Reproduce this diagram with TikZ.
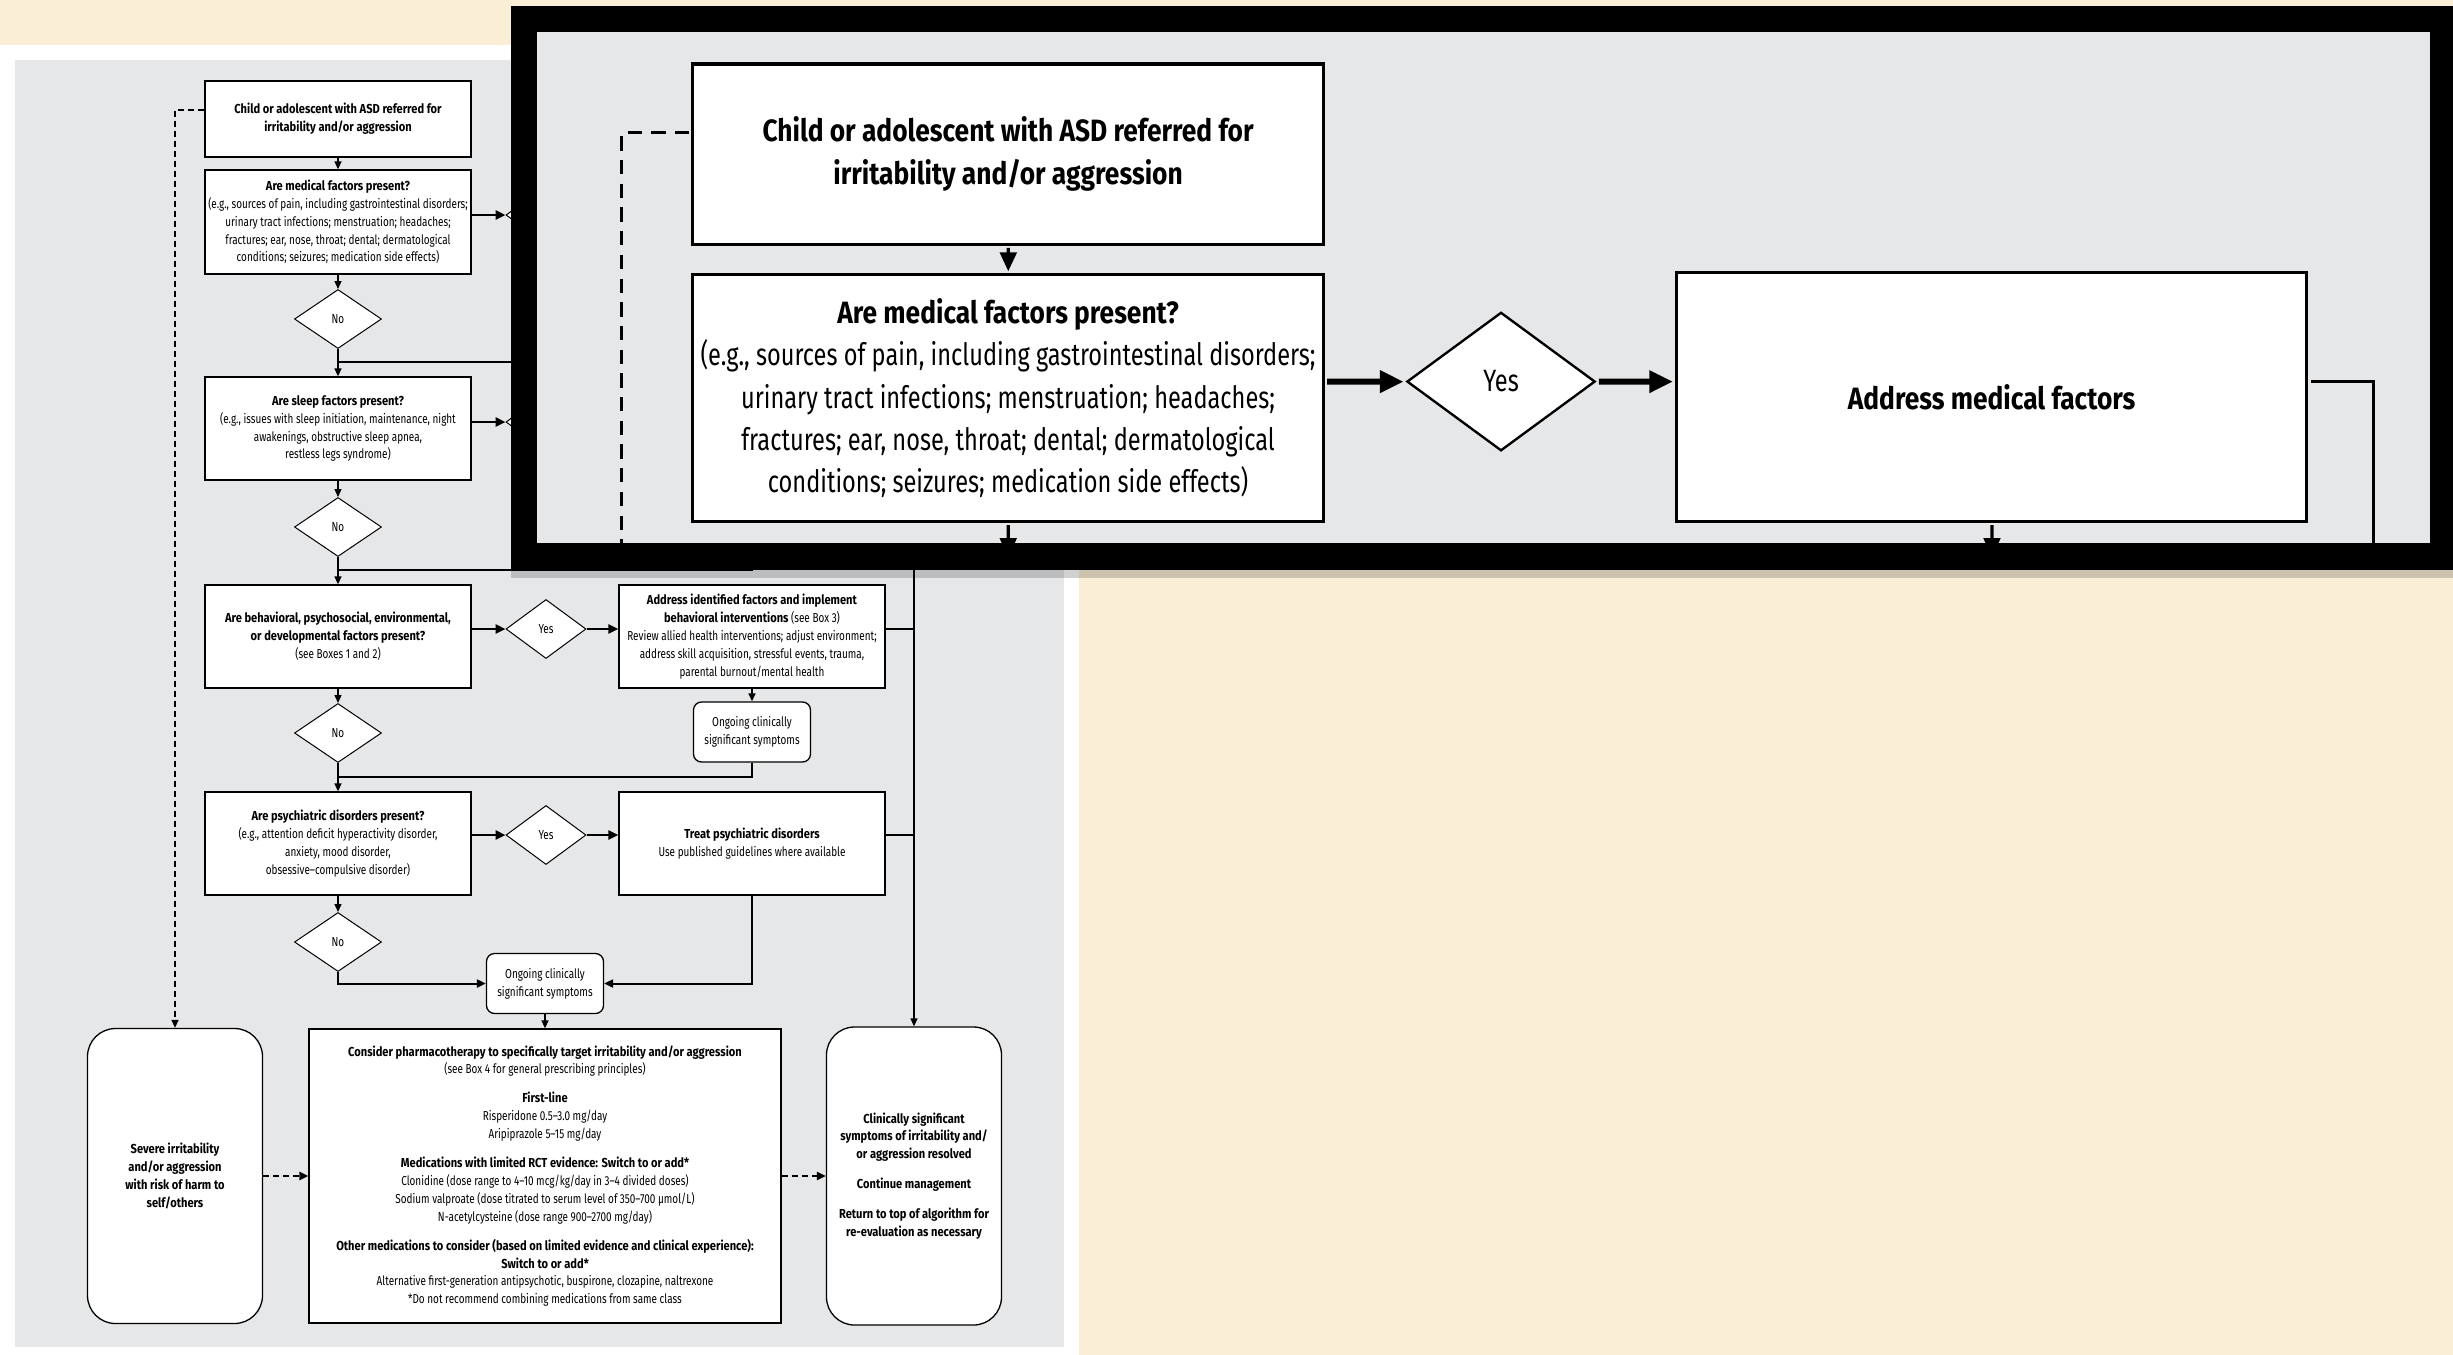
\documentclass[tikz,border=0pt]{standalone}
\usepackage{fontspec}
\setmainfont{Fira Sans}[FakeStretch=0.765, BoldFeatures={FakeStretch=0.855}]
\usetikzlibrary{arrows.meta,shapes.geometric}

\definecolor{cream}{RGB}{250,238,214}
\definecolor{panelgray}{RGB}{230,231,233}

\newcommand\setzoom[1]{%
  \def\zoomf{#1}%
  \pgfmathsetlengthmacro\lwthin{1.4pt*#1}%
  \pgfmathsetlengthmacro\lwbox{1.3pt*#1}%
  \pgfmathsetlengthmacro\lwdia{1pt*#1}%
  \pgfmathsetlengthmacro\lwthick{2.5pt*#1}%
  \pgfmathsetlengthmacro\dashon{6pt*#1}%
  \pgfmathsetlengthmacro\dashoff{4pt*#1}}
\setzoom{1}

\tikzset{
  boldtext/.style={font=\fontsize{13}{17.9}\selectfont\bfseries},
  box/.style={draw, fill=white, line width=\lwbox, align=center, inner sep=0pt},
  roundbox/.style={box, rounded corners=28pt},
  smallbox/.style={box, rounded corners=8pt, minimum width=117pt, minimum height=60pt},
  decision/.style={diamond, draw, fill=white, line width=\lwdia, inner sep=0pt, minimum height=59pt},
  arr/.style={line width=\lwthin, -{Triangle[length=8pt,width=7pt,scale=\zoomf]}},
  midarr/.style={line width=2pt, -{Triangle[length=9pt,width=8pt]}},
  yesarr/.style={line width=\lwthick, -{Triangle[length=10pt,width=9pt,scale=\zoomf]}},
  link/.style={line width=\lwthin},
  dashlink/.style={line width=\lwthin, dash pattern=on \dashon off \dashoff},
  dasharr/.style={line width=2.2pt, dash pattern=on 6pt off 4pt, -{Triangle[length=9pt,width=8pt]}},
}

\begin{document}
\begin{tikzpicture}[x=1pt, y=-1pt, font=\fontsize{13}{17.9}\selectfont]
  \useasboundingbox (0,0) rectangle (2453,1355);
  \fill[cream] (0,0) rectangle (2453,1355);
  \fill[white] (0,45) rectangle (1079,1355);
  \fill[panelgray] (15,60) rectangle (1064,1347);

  \node[box, boldtext, minimum width=266pt, minimum height=76pt] (child) at (338,119)
    {Child or adolescent with ASD referred for\\irritability and/or aggression};
  \node[box, minimum width=266pt, minimum height=104pt] (medical) at (338,222)
    {\textbf{Are medical factors present?}\\(e.g., sources of pain, including gastrointestinal disorders;\\urinary tract infections; menstruation; headaches;\\fractures; ear, nose, throat; dental; dermatological\\conditions; seizures; medication side effects)};
  \node[decision, minimum width=87pt] (nomed) at (338,319) {No};
  \node[decision, minimum width=80pt] (medyes) at (546,215) {};
  \node[box, minimum width=266pt, minimum height=103pt] (sleep) at (338,428.5)
    {\textbf{Are sleep factors present?}\\(e.g., issues with sleep initiation, maintenance, night\\awakenings, obstructive sleep apnea,\\restless legs syndrome)};
  \node[decision, minimum width=87pt] (nosleep) at (338,527) {No};
  \node[decision, minimum width=80pt] (sleepyes) at (546,422) {};
  \node[box, minimum width=266pt, minimum height=103pt] (behav) at (338,636.5)
    {\textbf{Are behavioral, psychosocial, environmental,}\\\textbf{or developmental factors present?}\\(see Boxes 1 and 2)};
  \node[decision, minimum width=80pt] (behavyes) at (546,629) {Yes};
  \node[box, minimum width=266pt, minimum height=103pt] (behavdo) at (752,636.5)
    {\textbf{Address identified factors and implement}\\\textbf{behavioral interventions} (see Box 3)\\Review allied health interventions; adjust environment;\\address skill acquisition, stressful events, trauma,\\parental burnout/mental health};
  \node[smallbox] (ongoing1) at (752,732) {Ongoing clinically\\significant symptoms};
  \node[decision, minimum width=87pt] (nobehav) at (338,733) {No};
  \node[box, minimum width=266pt, minimum height=103pt] (psych) at (338,843.5)
    {\textbf{Are psychiatric disorders present?}\\(e.g., attention deficit hyperactivity disorder,\\anxiety, mood disorder,\\obsessive--compulsive disorder)};
  \node[decision, minimum width=80pt] (psychyes) at (546,835) {Yes};
  \node[box, minimum width=266pt, minimum height=103pt] (psychdo) at (752,843.5)
    {\textbf{Treat psychiatric disorders}\\Use published guidelines where available};
  \node[decision, minimum width=87pt] (nopsych) at (338,942) {No};
  \node[smallbox] (ongoing2) at (545,983.5) {Ongoing clinically\\significant symptoms};
  \node[roundbox, boldtext, minimum width=175pt, minimum height=295pt] (severe) at (175,1176)
    {Severe irritability\\and/or aggression\\with risk of harm to\\self/others};
  \node[box, minimum width=472pt, minimum height=294pt] (pharma) at (545,1176)
    {\textbf{Consider pharmacotherapy to specifically target irritability and/or aggression}\\(see Box 4 for general prescribing principles)\\[11pt]
     \textbf{First-line}\\Risperidone 0.5--3.0 mg/day\\Aripiprazole 5--15 mg/day\\[11pt]
     \textbf{Medications with limited RCT evidence: Switch to or add*}\\Clonidine (dose range to 4--10 mcg/kg/day in 3--4 divided doses)\\Sodium valproate (dose titrated to serum level of 350--700 μmol/L)\\N-acetylcysteine (dose range 900--2700 mg/day)\\[11pt]
     \textbf{Other medications to consider (based on limited evidence and clinical experience):}\\\textbf{Switch to or add*}\\Alternative first-generation antipsychotic, buspirone, clozapine, naltrexone\\*Do not recommend combining medications from same class};
  \node[roundbox, boldtext, minimum width=175pt, minimum height=298pt] (resolved) at (914,1176)
    {Clinically significant\\symptoms of irritability and/\\or aggression resolved\\[12pt]Continue management\\[12pt]Return to top of algorithm for\\re-evaluation as necessary};

  \coordinate (medback) at (752,349);
  \coordinate (medjoin) at (338,362);
  \coordinate (sleepback) at (752,556);
  \coordinate (sleepjoin) at (338,570);
  \coordinate (behavjoin) at (338,777);
  \coordinate (rightline) at (914,215);
  \coordinate (dashcorner) at (175,110);
  \begin{scope}
    \draw[arr] (child) -- (medical);
    \draw[arr] (medical) -- (nomed);
    \draw[yesarr] (medical.east |- medyes) -- (medyes);
    \draw[arr] (nomed) -- (sleep);
    \draw[link] (medback) |- (medjoin);
    \draw[yesarr] (sleep.east |- sleepyes) -- (sleepyes);
    \draw[arr] (sleep) -- (nosleep);
    \draw[arr] (nosleep) -- (behav);
    \draw[link] (sleepback) |- (sleepjoin);
    \draw[yesarr] (behav.east |- behavyes) -- (behavyes);
    \draw[yesarr] (behavyes) -- (behavdo.west |- behavyes);
    \draw[arr] (behavdo) -- (ongoing1);
    \draw[link] (ongoing1) |- (behavjoin);
    \draw[arr] (behav) -- (nobehav);
    \draw[arr] (nobehav) -- (psych);
    \draw[yesarr] (psych.east |- psychyes) -- (psychyes);
    \draw[yesarr] (psychyes) -- (psychdo.west |- psychyes);
    \draw[arr] (psych) -- (nopsych);
    \draw[midarr] (psychdo) |- (ongoing2);
    \draw[midarr] (nopsych) |- (ongoing2);
    \draw[arr] (ongoing2) -- (pharma);
    \draw[arr] (rightline) -- (resolved);
    \draw[link] (behavdo.east |- behavyes) -- (behavyes -| resolved);
    \draw[link] (psychdo.east |- psychyes) -- (psychyes -| resolved);
    \draw[dashlink, -{Triangle[length=8pt,width=7pt]}] (child.west |- dashcorner) -- (dashcorner) -- (severe);
    \draw[dasharr] (severe) -- (pharma);
    \draw[dasharr] (pharma) -- (resolved);
  \end{scope}

  % zoomed inset
  \fill[black, opacity=.18] (511,570) rectangle (2453,578);
  \fill[black] (511,6) rectangle (2460,570);
  \fill[panelgray] (537,32) rectangle (2430,543);
  \begin{scope}
    \clip (537,32) rectangle (2430,543);
    \begin{scope}[shift={(207,-128)}, scale=2.37, transform shape]
      \setzoom{2.37}
      \node[box, boldtext, minimum width=266pt, minimum height=76pt] (zchild) at (338,119)
        {Child or adolescent with ASD referred for\\irritability and/or aggression};
      \node[box, minimum width=266pt, minimum height=104pt] (zmedical) at (338,222)
        {\textbf{Are medical factors present?}\\(e.g., sources of pain, including gastrointestinal disorders;\\urinary tract infections; menstruation; headaches;\\fractures; ear, nose, throat; dental; dermatological\\conditions; seizures; medication side effects)};
      \node[decision, minimum width=80pt] (zmedyes) at (546,215) {Yes};
      \node[box, boldtext, minimum width=266pt, minimum height=105pt] (zmedaddr) at (753,221.5)
        {Address medical factors};
      \coordinate (znomed) at (338,289);
      \coordinate (zmedon) at (753,289);
      \coordinate (zdash) at (175,110);
      \coordinate (zdashend) at (175,300);
      \coordinate (zright) at (914,300);
      \draw[arr] (zchild) -- (zmedical);
      \draw[arr] (zmedical) -- (znomed);
      \draw[yesarr] (zmedical.east |- zmedyes) -- (zmedyes);
      \draw[yesarr] (zmedyes) -- (zmedaddr.west |- zmedyes);
      \draw[arr] (zmedaddr) -- (zmedon);
      \draw[link] (zmedaddr.east |- zmedyes) -| (zright);
      \draw[dashlink] (zchild.west |- zdash) -- (zdash) -- (zdashend);
    \end{scope}
  \end{scope}
\end{tikzpicture}
\end{document}
